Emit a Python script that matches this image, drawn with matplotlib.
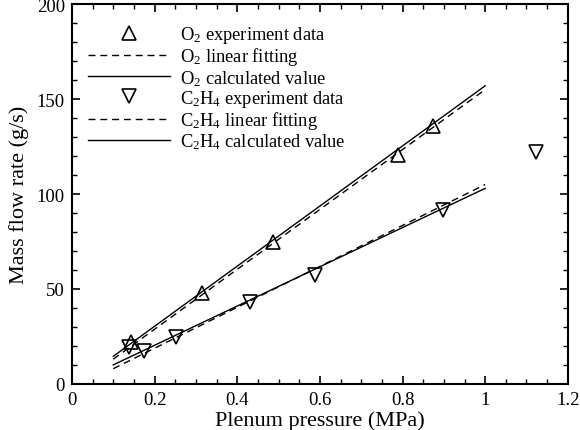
import matplotlib
matplotlib.use('Agg')
import matplotlib.pyplot as plt
from matplotlib.ticker import MultipleLocator

plt.rcParams['font.family'] = ['Liberation Serif', 'DejaVu Serif']
plt.rcParams['mathtext.fontset'] = 'custom'
plt.rcParams['mathtext.rm'] = 'Liberation Serif'
plt.rcParams['mathtext.default'] = 'regular'

# experiment data
o2_p = [0.144, 0.314, 0.486, 0.790, 0.873]
o2_m = [22.0, 47.9, 74.6, 120.5, 135.6]
c2h4_p = [0.139, 0.175, 0.253, 0.432, 0.588, 0.897, 1.122]
c2h4_m = [19.3, 17.5, 24.6, 43.3, 57.4, 91.6, 122.3]

# fitted / calculated lines (end points)
line_p = [0.1, 1.0]
o2_fit = [13.0, 155.0]
o2_calc = [14.5, 157.0]
c2h4_fit = [8.0, 105.0]
c2h4_calc = [10.0, 103.0]

fig = plt.figure(figsize=(5.8, 4.31), dpi=100)
ax = fig.add_axes([0.124, 0.107, 0.855, 0.881])

ax.plot(o2_p, o2_m, ls='none', marker='^', ms=10, mfc='none', mec='black', mew=1.2,
        label=r'O$_2$ experiment data')
ax.plot(line_p, o2_fit, color='black', lw=1.0, dashes=(5, 3.5), label=r'O$_2$ linear fitting')
ax.plot(line_p, o2_calc, color='black', lw=1.0, label=r'O$_2$ calculated value')
ax.plot(c2h4_p, c2h4_m, ls='none', marker='v', ms=10, mfc='none', mec='black', mew=1.2,
        label=r'C$_2$H$_4$ experiment data')
ax.plot(line_p, c2h4_fit, color='black', lw=1.0, dashes=(5, 3.5), label=r'C$_2$H$_4$ linear fitting')
ax.plot(line_p, c2h4_calc, color='black', lw=1.0, label=r'C$_2$H$_4$ calculated value')

ax.set_xlim(0, 1.2)
ax.set_ylim(0, 200)
ax.xaxis.set_major_locator(MultipleLocator(0.2))
ax.xaxis.set_minor_locator(MultipleLocator(0.05))
ax.yaxis.set_major_locator(MultipleLocator(50))
ax.yaxis.set_minor_locator(MultipleLocator(10))
ax.set_xticks([0, 0.2, 0.4, 0.6, 0.8, 1.0, 1.2], ['0', '0.2', '0.4', '0.6', '0.8', '1', '1.2'])
ax.tick_params(which='both', direction='in', top=True, right=True, labelsize=13.5)
ax.tick_params(axis='x', pad=5)
ax.tick_params(axis='y', pad=5)
ax.tick_params(which='major', length=6, width=1.2)
ax.tick_params(which='minor', length=3.5, width=1.0)
for s in ax.spines.values():
    s.set_linewidth(1.5)

ax.set_xlabel('Plenum pressure (MPa)', fontsize=16, labelpad=2)
ax.set_ylabel('Mass flow rate (g/s)', fontsize=16, labelpad=6)

ax.legend(loc='upper left', frameon=False, fontsize=13.3, handlelength=4.43,
          handletextpad=0.54, labelspacing=0.02, borderaxespad=0.0,
          bbox_to_anchor=(0.0173, 0.967))

fig.savefig('out.png', dpi=100)
